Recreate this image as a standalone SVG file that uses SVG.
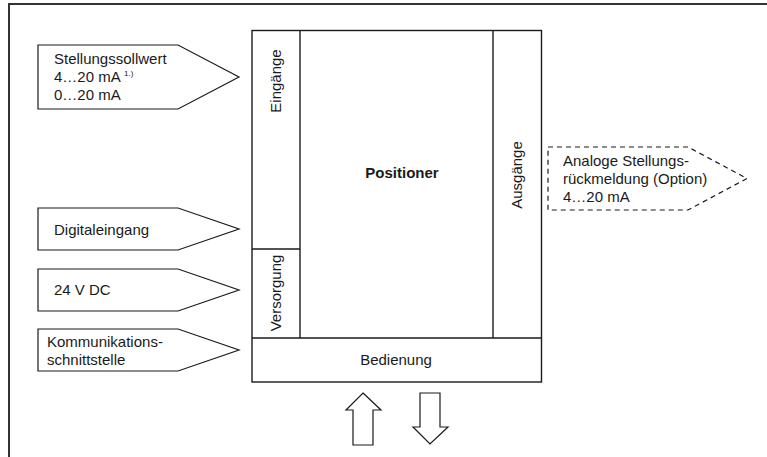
<svg xmlns="http://www.w3.org/2000/svg" width="767" height="457" viewBox="0 0 767 457">
<style>
text{font-family:"Liberation Sans",Arial,sans-serif;font-size:15px;fill:#1a1a1a}
.b{font-weight:bold}
.box{fill:none;stroke:#1a1a1a;stroke-width:1.4}
.tag{fill:#fff;stroke:#1a1a1a;stroke-width:1.2}
.dash{fill:#fff;stroke:#1a1a1a;stroke-width:1.2;stroke-dasharray:5 4}
.arr{fill:#fff;stroke:#1a1a1a;stroke-width:1.2}
</style>
<rect width="767" height="457" fill="#fff"/>
<rect id="frame" x="9" y="4" width="780" height="480" fill="none" stroke="#333" stroke-width="2"/>
<g id="positioner">
<rect class="box" x="252" y="30.5" width="289.5" height="351.5"/>
<line class="box" x1="300" y1="30.5" x2="300" y2="338"/>
<line class="box" x1="493" y1="30.5" x2="493" y2="338"/>
<line class="box" x1="252" y1="338" x2="541.5" y2="338"/>
<line class="box" x1="252" y1="249" x2="300" y2="249"/>
<text class="b" x="402" y="178" text-anchor="middle">Positioner</text>
</g>
<g id="eingaenge"><text transform="translate(281,81) rotate(-90)" text-anchor="middle">Eingänge</text></g>
<g id="versorgung"><text transform="translate(281,293) rotate(-90)" text-anchor="middle">Versorgung</text></g>
<g id="ausgaenge"><text transform="translate(522,175) rotate(-90)" text-anchor="middle">Ausgänge</text></g>
<g id="bedienung"><text x="396" y="365" text-anchor="middle">Bedienung</text></g>
<g id="sollwert">
<polygon class="tag" points="38,45 178,45 239,77 178,109 38,109"/>
<text x="54" y="64">Stellungssollwert</text>
<text x="54" y="82">4…20 mA <tspan font-size="8" dy="-6">1.)</tspan></text>
<text x="54" y="100">0…20 mA</text>
</g>
<g id="digital">
<polygon class="tag" points="38,208 178,208 239,229 178,250 38,250"/>
<text x="54" y="235">Digitaleingang</text>
</g>
<g id="dc">
<polygon class="tag" points="38,269 178,269 239,290 178,311 38,311"/>
<text x="54" y="295">24 V DC</text>
</g>
<g id="komm">
<polygon class="tag" points="38,329 178,329 239,350 178,371 38,371"/>
<text x="47" y="347">Kommunikations-</text>
<text x="47" y="365">schnittstelle</text>
</g>
<g id="rueckmeldung">
<polygon class="dash" points="548,147 688,147 747,178.5 688,210 548,210"/>
<text x="563" y="166">Analoge Stellungs-</text>
<text x="563" y="184">rückmeldung (Option)</text>
<text x="563" y="202">4…20 mA</text>
</g>
<g id="connectors">
<polygon class="arr" points="363,393 381,410 373,410 373,445 353,445 353,410 346,410"/>
<polygon class="arr" points="420,393 440,393 440,427 448,427 430,444 413,427 420,427"/>
</g>
</svg>
